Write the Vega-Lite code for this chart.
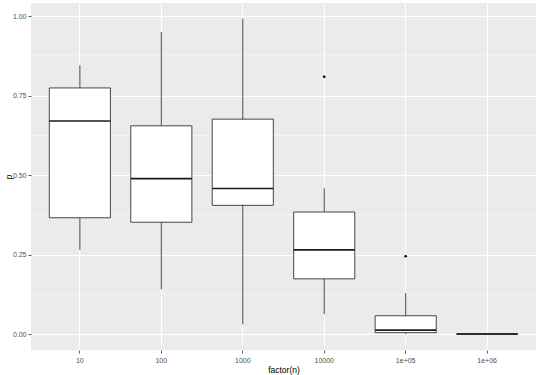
{
  "$schema": "https://vega.github.io/schema/vega-lite/v6.json",
  "width": 505,
  "height": 347,
  "autosize": {"type": "none"},
  "padding": {"left": 31, "top": 3, "right": 4, "bottom": 25},
  "background": "white",
  "config": {
    "view": {"fill": "#EBEBEB", "stroke": null},
    "font": "Liberation Sans",
    "axis": {
      "domain": false,
      "grid": true,
      "gridColor": "#FFFFFF",
      "gridWidth": 1.1,
      "tickColor": "#333333",
      "tickSize": 3,
      "tickWidth": 0.8,
      "labelFontSize": 7,
      "labelColor": "#4D4D4D",
      "labelFont": "Liberation Sans",
      "titleFont": "Liberation Sans",
      "titleFontSize": 8.5,
      "titleFontWeight": "normal",
      "titleColor": "#000000"
    }
  },
  "datasets": {
    "stats": [
      {"n": "10", "lo": 0.265, "q1": 0.366, "median": 0.670, "q3": 0.774, "hi": 0.845},
      {"n": "100", "lo": 0.141, "q1": 0.352, "median": 0.489, "q3": 0.655, "hi": 0.950},
      {"n": "1000", "lo": 0.031, "q1": 0.405, "median": 0.458, "q3": 0.676, "hi": 0.992},
      {"n": "10000", "lo": 0.063, "q1": 0.174, "median": 0.265, "q3": 0.384, "hi": 0.459},
      {"n": "1e+05", "lo": 0.0, "q1": 0.005, "median": 0.013, "q3": 0.058, "hi": 0.1295},
      {"n": "1e+06", "lo": 0.0, "q1": 0.0003, "median": 0.0006, "q3": 0.001, "hi": 0.002}
    ],
    "outliers": [
      {"n": "10000", "p": 0.809},
      {"n": "1e+05", "p": 0.245}
    ],
    "minor": [
      {"m": 0.125}, {"m": 0.375}, {"m": 0.625}, {"m": 0.875}
    ]
  },
  "layer": [
    {
      "data": {"name": "minor"},
      "mark": {"type": "rule", "color": "#FFFFFF", "strokeWidth": 0.55},
      "encoding": {
        "y": {
          "field": "m", "type": "quantitative",
          "scale": {"domain": [-0.0496, 1.041], "nice": false, "zero": false},
          "axis": {"title": "p", "values": [0, 0.25, 0.5, 0.75, 1], "format": ".2f", "labelPadding": 2, "titlePadding": -1}
        }
      }
    },
    {
      "data": {"name": "stats"},
      "mark": {"type": "rule", "color": "#333333", "strokeWidth": 0.9},
      "encoding": {
        "x": {
          "field": "n", "type": "nominal",
          "sort": ["10", "100", "1000", "10000", "1e+05", "1e+06"],
          "scale": {"type": "band", "paddingInner": 0, "paddingOuter": 0.1},
          "axis": {"title": "factor(n)", "labelAngle": 0, "bandPosition": 0.5, "labelPadding": 3, "titlePadding": 2}
        },
        "y": {
          "field": "lo", "type": "quantitative",
          "scale": {"domain": [-0.0496, 1.041], "nice": false, "zero": false},
          "axis": {"title": "p", "values": [0, 0.25, 0.5, 0.75, 1], "format": ".2f", "labelPadding": 2, "titlePadding": -1}
        },
        "y2": {"field": "hi"}
      }
    },
    {
      "data": {"name": "stats"},
      "mark": {"type": "bar", "fill": "#FFFFFF", "stroke": "#333333", "strokeWidth": 0.9, "width": {"band": 0.75}},
      "encoding": {
        "x": {"field": "n", "type": "nominal", "sort": ["10", "100", "1000", "10000", "1e+05", "1e+06"]},
        "y": {"field": "q1", "type": "quantitative"},
        "y2": {"field": "q3"}
      }
    },
    {
      "data": {"name": "stats"},
      "mark": {"type": "tick", "color": "#1A1A1A", "thickness": 1.6, "size": 61, "opacity": 1},
      "encoding": {
        "x": {"field": "n", "type": "nominal", "sort": ["10", "100", "1000", "10000", "1e+05", "1e+06"]},
        "y": {"field": "median", "type": "quantitative"}
      }
    },
    {
      "data": {"name": "outliers"},
      "mark": {"type": "point", "filled": true, "color": "#000000", "size": 7, "opacity": 1},
      "encoding": {
        "x": {"field": "n", "type": "nominal", "sort": ["10", "100", "1000", "10000", "1e+05", "1e+06"]},
        "y": {"field": "p", "type": "quantitative"}
      }
    }
  ]
}
